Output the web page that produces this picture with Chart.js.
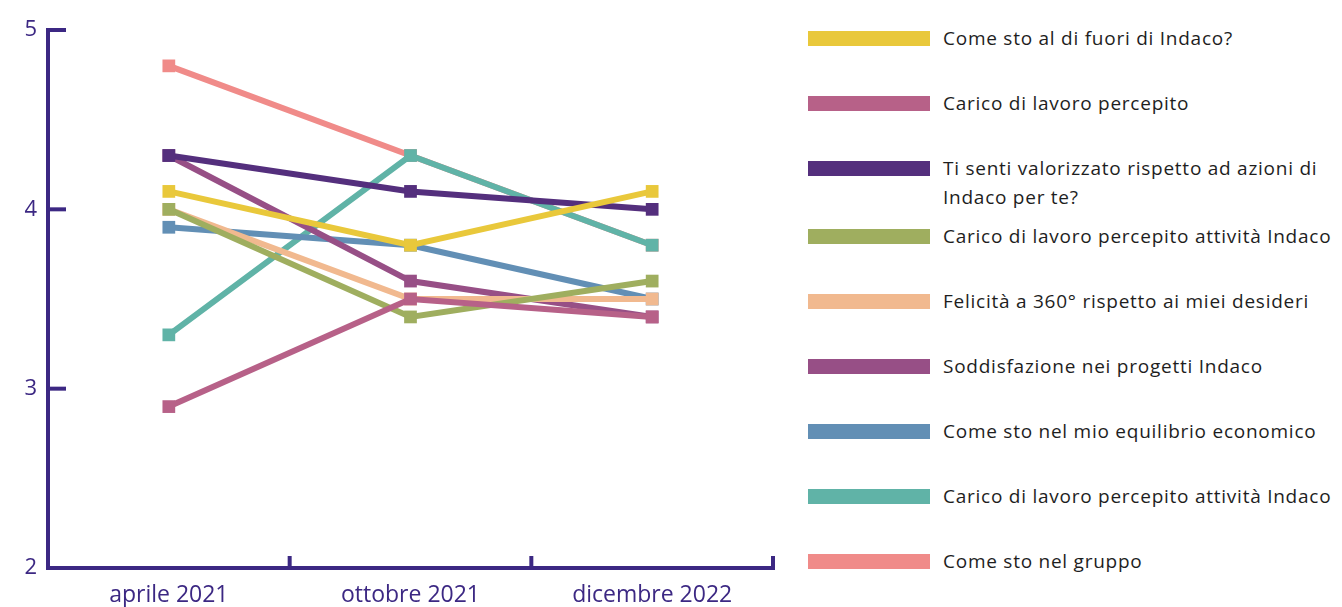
<!DOCTYPE html>
<html>
<head>
<meta charset="utf-8">
<script src="https://cdn.jsdelivr.net/npm/chart.js@4"></script>
<style>
    body { margin: 0; background: #fff; }
    #wrap { position: relative; width: 1342px; height: 607px; }
    #chart-box { position: absolute; left: 0; top: 0; width: 800px; height: 607px; }
    #legend { position: absolute; left: 808px; top: 24px; width: 534px; font-family: "Open Sans", sans-serif; font-size: 19px; letter-spacing: 0.75px; color: #1e1e1e; }
    .item { display: flex; align-items: flex-start; height: 65px; line-height: 29px; }
    .item.tall { height: 68px; }
    .swatch { width: 122px; height: 15px; margin-top: 7px; margin-right: 13px; flex: none; }
</style>
</head>
<body>
<div id="wrap">
    <div id="chart-box"><canvas id="trendChart"></canvas></div>
    <div id="legend"></div>
</div>
<script>
const periodi = ['aprile 2021', 'ottobre 2021', 'dicembre 2022'];
const etichetteY = [2, 3, 4, 5];

const nomiSerie = [
    'Come sto al di fuori di Indaco?',
    'Carico di lavoro percepito',
    'Ti senti valorizzato rispetto ad azioni di Indaco per te?',
    'Carico di lavoro percepito attività Indaco',
    'Felicità a 360° rispetto ai miei desideri',
    'Soddisfazione nei progetti Indaco',
    'Come sto nel mio equilibrio economico',
    'Carico di lavoro percepito attività Indaco',
    'Come sto nel gruppo'
];

const fuoriIndaco = [4.1, 3.8, 4.1];
const caricoLavoro = [2.9, 3.5, 3.4];
const valorizzato = [4.3, 4.1, 4.0];
const caricoAttivita = [4.0, 3.4, 3.6];
const felicita = [4.0, 3.5, 3.5];
const soddisfazione = [4.3, 3.6, 3.4];
const equilibrio = [3.9, 3.8, 3.5];
const caricoAttivita2 = [3.3, 4.3, 3.8];
const gruppo = [4.8, 4.3, 3.8];

const colori = ['#e9c83b', '#b76188', '#542f7d', '#9fae5f', '#f1b98f', '#974f86', '#628fb5', '#60b3a7', '#f08b89'];
const valori = [fuoriIndaco, caricoLavoro, valorizzato, caricoAttivita, felicita, soddisfazione, equilibrio, caricoAttivita2, gruppo];

const viola = '#3c2883';

// tick marks drawn inside the axes
const tacche = {
    id: 'tacche',
    afterDraw(chart) {
        const ctx = chart.ctx;
        const x = chart.scales.x;
        const y = chart.scales.y;
        ctx.save();
        ctx.strokeStyle = viola;
        ctx.lineWidth = 4;
        ctx.lineCap = 'butt';
        etichetteY.forEach(v => {
            const py = y.getPixelForValue(v);
            ctx.beginPath();
            ctx.moveTo(x.left - 2, py);
            ctx.lineTo(x.left + 18, py);
            ctx.stroke();
        });
        periodi.forEach((p, i) => {
            const px = x.getPixelForValue(i + 0.5);
            ctx.beginPath();
            ctx.moveTo(px, y.bottom + 2);
            ctx.lineTo(px, y.bottom - 12);
            ctx.stroke();
        });
        ctx.restore();
    }
};

const datasets = valori.map((serie, i) => ({
    label: nomiSerie[i],
    data: serie,
    borderColor: colori[i],
    backgroundColor: colori[i],
    borderWidth: 6,
    pointStyle: 'rect',
    pointRadius: 9,
    pointBorderWidth: 0,
    tension: 0,
    fill: false
}));

const ctx = document.getElementById('trendChart').getContext('2d');
const trendChart = new Chart(ctx, {
    type: 'line',
    data: { labels: periodi, datasets: datasets },
    options: {
        responsive: true,
        maintainAspectRatio: false,
        animation: false,
        layout: { padding: { top: 30, right: 27, left: 0, bottom: 0 } },
        scales: {
            x: {
                offset: true,
                grid: { display: true, drawOnChartArea: false, drawTicks: false, offset: true },
                border: { color: viola, width: 4 },
                ticks: { color: viola, padding: 14, font: { family: 'Open Sans', size: 23 } },
                afterFit: s => { s.height = 39; }
            },
            y: {
                min: 2,
                max: 5,
                grid: { display: true, drawOnChartArea: false, drawTicks: false },
                border: { color: viola, width: 4 },
                ticks: {
                    stepSize: 1,
                    color: viola,
                    padding: 11,
                    font: { family: 'Open Sans', size: 22 }
                },
                afterFit: s => { s.width = 48; }
            }
        },
        plugins: {
            legend: { display: false },
            tooltip: { enabled: false }
        }
    },
    plugins: [tacche]
});

// legenda html
const legenda = document.getElementById('legend');
nomiSerie.forEach((nome, i) => {
    const item = document.createElement('div');
    item.className = 'item' + (nome.length > 45 ? ' tall' : '');
    item.innerHTML = `<span class="swatch" style="background:${colori[i]}"></span><span>${nome}</span>`;
    legenda.appendChild(item);
});
</script>
</body>
</html>
